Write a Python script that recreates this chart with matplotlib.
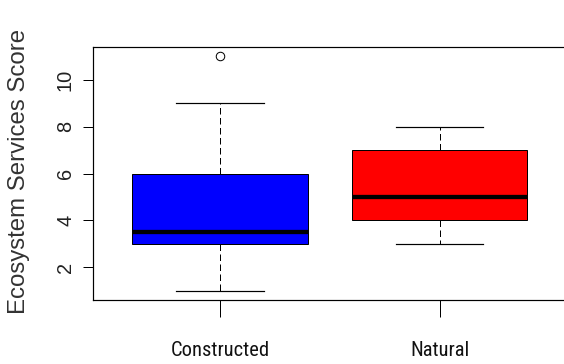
import matplotlib
matplotlib.use("Agg")
import matplotlib.pyplot as plt
from matplotlib import font_manager

# ---- data ----
categories = ["Constructed", "Natural"]
q1 = [3.0, 4.0]
median = [3.5, 5.0]
q3 = [6.0, 7.0]
whisker_low = [1.0, 3.0]
whisker_high = [9.0, 8.0]
outliers = [[11.0], []]
box_colors = ["#0000FF", "#FF0000"]
y_ticks = [2, 4, 6, 8, 10]
y_label = "Ecosystem Services Score"

names = {f.name for f in font_manager.fontManager.ttflist}
regular = "Liberation Sans" if "Liberation Sans" in names else "DejaVu Sans"
narrow = regular
for cand in ["Roboto Condensed", "Archivo Narrow", "PT Sans Narrow", "Liberation Sans Narrow"]:
    if cand in names:
        narrow = cand
        break

plt.rcParams["lines.scale_dashes"] = False

W, H = 564, 364
fig = plt.figure(figsize=(W / 100, H / 100), dpi=100)
px = 72 / 100  # points per pixel

left_px, right_px, top_px, bottom_px = 93, 600, 47, 300
ax = fig.add_axes([left_px / W, (H - bottom_px) / H,
                   (right_px - left_px) / W, (bottom_px - top_px) / H])

stats = []
for i, c in enumerate(categories):
    stats.append(dict(label=c, q1=q1[i], med=median[i], q3=q3[i],
                      whislo=whisker_low[i], whishi=whisker_high[i],
                      fliers=outliers[i]))

positions = list(range(1, len(categories) + 1))
res = ax.bxp(stats, positions=positions, widths=0.8, capwidths=0.4,
             patch_artist=True, showfliers=True,
             boxprops=dict(edgecolor="black", linewidth=1.0 * px),
             medianprops=dict(color="black", linewidth=4.3 * px,
                              solid_capstyle="butt"),
             whiskerprops=dict(color="black", linewidth=1.0 * px,
                               linestyle=(0, (6.5 * px, 3.5 * px))),
             capprops=dict(color="black", linewidth=1.2 * px),
             flierprops=dict(marker="o", markerfacecolor="none",
                             markeredgecolor="black", markersize=8.5 * px,
                             markeredgewidth=1.0 * px))
for patch, col in zip(res["boxes"], box_colors):
    patch.set_facecolor(col)

# scales: 1 -> x=220px, 2 -> x=439.5px
unit = 219.5
ax.set_xlim(1 - (220 - left_px) / unit, 2 + (right_px - 439.5) / unit)
ax.set_ylim(0.6, 11.4)

ax.set_yticks(y_ticks)
ax.set_yticklabels([str(t) for t in y_ticks], rotation=90, va="center",
                   fontfamily=regular, fontsize=20 * px, color="#222222")
ax.set_xticks(positions)
ax.set_xticklabels(categories, fontfamily=narrow, fontsize=20.5 * px, color="#111111")

ax.tick_params(axis="y", length=10 * px, width=1.0 * px, pad=8 * px)
ax.tick_params(axis="x", length=17 * px, width=1.0 * px, pad=24 * px)

for s in ["left", "top", "bottom"]:
    ax.spines[s].set_linewidth(1.2 * px)
    ax.spines[s].set_color("black")
ax.spines["right"].set_visible(False)

ax.set_ylabel(y_label, fontfamily=regular, fontsize=24 * px, color="#333333")
ax.yaxis.set_label_coords((30 - left_px) / (right_px - left_px), 0.51)

fig.savefig("out.png", dpi=100)
